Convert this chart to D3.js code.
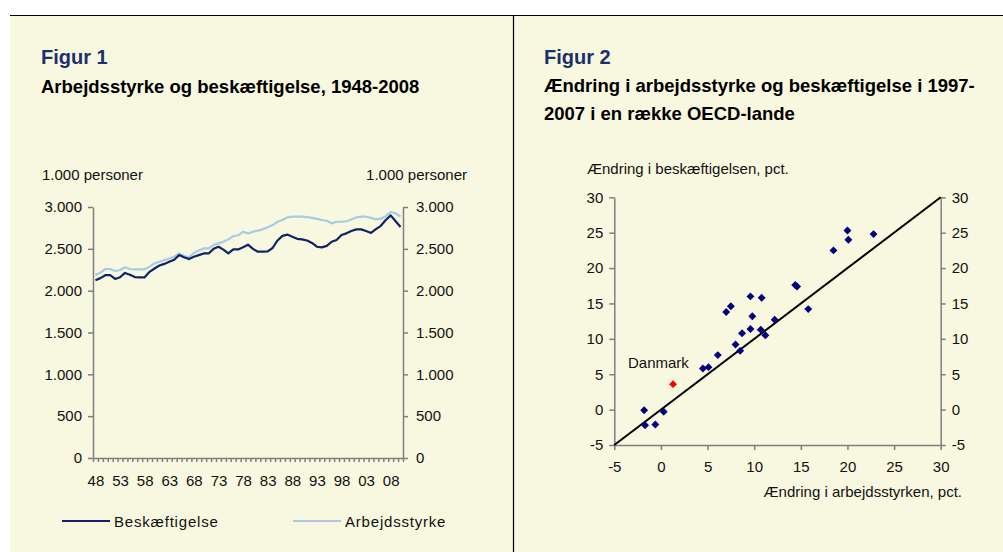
<!DOCTYPE html>
<html>
<head>
<meta charset="utf-8">
<script src="https://cdn.jsdelivr.net/npm/d3@7"></script>
<style>
  body { margin: 0; background: #fff; }
  svg text { font-family: "Liberation Sans", Arial, sans-serif; }
</style>
</head>
<body>
<svg id="chart" width="1003" height="552"></svg>
<script>
// Figur 1: 1.000 personer, 1948-2010
const years = d3.range(1948, 2011);
const beskaeftigelse = [
  2125, 2150, 2185, 2187, 2140, 2160, 2212, 2190, 2162, 2160,
  2160, 2225, 2265, 2300, 2320, 2345, 2370, 2425, 2400, 2378,
  2405, 2425, 2445, 2445, 2500, 2525, 2490, 2445, 2493, 2493,
  2520, 2550, 2500, 2466, 2466, 2470, 2510, 2600, 2655, 2670,
  2645, 2620, 2613, 2600, 2570, 2525, 2517, 2535, 2585, 2605,
  2665, 2685, 2713, 2733, 2733, 2713, 2690, 2735, 2775, 2845,
  2900, 2830, 2760
];
const arbejdsstyrke = [
  2187, 2215, 2259, 2259, 2235, 2247, 2279, 2259, 2255, 2255,
  2255, 2287, 2326, 2345, 2365, 2385, 2406, 2446, 2415, 2400,
  2450, 2480, 2505, 2505, 2545, 2565, 2585, 2613, 2650, 2662,
  2705, 2685, 2705, 2717, 2733, 2757, 2784, 2824, 2844, 2876,
  2884, 2884, 2884, 2880, 2870, 2858, 2845, 2836, 2804, 2824,
  2824, 2830, 2850, 2875, 2884, 2884, 2870, 2852, 2860, 2890,
  2940, 2925, 2885
];
const fig1YTicks = [0, 500, 1000, 1500, 2000, 2500, 3000];
const fig1XLabelYears = [1948, 1953, 1958, 1963, 1968, 1973, 1978, 1983, 1988, 1993, 1998, 2003, 2008];

// Figur 2: ændring 1997-2007, pct.
const arbejdsstyrkeAendring = [
  20.0, 20.1, 22.8, 18.5, 14.4, 14.6, 15.8, 9.6, 10.8, 7.0,
  7.5, 9.8, 12.2, 8.7, 9.6, 10.7, 11.2, 8.0, 8.5, 6.1,
  4.5, 5.1, -1.8, -1.7, -0.6, 0.3
];
const beskaeftigelseAendring = [
  25.3, 24.0, 24.8, 22.5, 17.6, 17.4, 14.2, 16.0, 15.8, 13.8,
  14.6, 13.2, 12.7, 10.8, 11.4, 11.3, 10.5, 9.2, 8.3, 7.7,
  5.8, 6.0, -0.1, -2.2, -2.1, -0.3
];
const danmark = { x: 1.3, y: 3.6 };
const fig2Ticks = [-5, 0, 5, 10, 15, 20, 25, 30];

const cream = "#f8f8e0";
const axisGrey = "#7f7f7f";
const navy = "#1b2f6b";
const darkLine = "#0e2465";
const lightLine = "#a7cbe2";
const fontSize = 15;

const da = d3.formatLocale({ decimal: ",", thousands: ".", grouping: [3], currency: ["", " kr"], minus: "-" });
const fmt = da.format(",");

const svg = d3.select("#chart");

// baggrund og ramme
svg.append("rect").attr("x", 10).attr("y", 15).attr("width", 993).attr("height", 537).attr("fill", cream);
svg.append("line").attr("x1", 10).attr("x2", 1003).attr("y1", 15.5).attr("y2", 15.5).attr("stroke", "#000").attr("stroke-width", 1.2);
svg.append("line").attr("x1", 513.5).attr("x2", 513.5).attr("y1", 15).attr("y2", 552).attr("stroke", "#000").attr("stroke-width", 1.2);

function styleAxis(g) {
  g.selectAll("path, line").attr("stroke", axisGrey).attr("stroke-width", 1.5);
  g.selectAll("text").attr("font-size", fontSize).attr("fill", "#111")
    .attr("font-family", "'Liberation Sans', Arial, sans-serif");
}

// ---------- Figur 1 ----------
svg.append("text").attr("x", 41).attr("y", 64).attr("font-size", 20).attr("font-weight", "bold")
  .attr("fill", navy).text("Figur 1");
svg.append("text").attr("x", 41).attr("y", 93).attr("font-size", 18.5).attr("font-weight", "bold")
  .attr("fill", "#000").text("Arbejdsstyrke og beskæftigelse, 1948-2008");

const x1 = d3.scaleLinear().domain([1947.5, 2010.5]).range([93, 403]);
const y1 = d3.scaleLinear().domain([0, 3000]).range([458, 207]);

svg.append("text").attr("x", 42).attr("y", 180).attr("font-size", fontSize).attr("fill", "#111").text("1.000 personer");
svg.append("text").attr("x", 467).attr("y", 180).attr("font-size", fontSize).attr("fill", "#111")
  .attr("text-anchor", "end").text("1.000 personer");

svg.append("g").attr("transform", "translate(93,0)")
  .call(d3.axisLeft(y1).tickValues(fig1YTicks).tickFormat(fmt).tickSize(5).tickPadding(6).tickSizeOuter(0))
  .call(styleAxis);
svg.append("g").attr("transform", "translate(403,0)")
  .call(d3.axisRight(y1).tickValues(fig1YTicks).tickFormat(fmt).tickSize(5).tickPadding(8).tickSizeOuter(0))
  .call(styleAxis);
svg.append("g").attr("transform", "translate(0,458)")
  .call(d3.axisBottom(x1).tickValues(d3.range(1947.5, 2011, 1)).tickFormat("").tickSize(4).tickSizeOuter(0))
  .call(styleAxis);
svg.append("g").attr("transform", "translate(0,458)")
  .call(d3.axisBottom(x1).tickValues(fig1XLabelYears).tickFormat(d => String(d).slice(2)).tickSize(0).tickPadding(17))
  .call(styleAxis)
  .call(g => g.select(".domain").remove());

const line1 = d3.line().x((d, i) => x1(years[i])).y(d => y1(d));
svg.append("path").datum(arbejdsstyrke).attr("d", line1).attr("fill", "none")
  .attr("stroke", lightLine).attr("stroke-width", 2.2).attr("stroke-linejoin", "round");
svg.append("path").datum(beskaeftigelse).attr("d", line1).attr("fill", "none")
  .attr("stroke", darkLine).attr("stroke-width", 2.2).attr("stroke-linejoin", "round");

const legend = [
  { name: "Beskæftigelse", color: darkLine, x: 62 },
  { name: "Arbejdsstyrke", color: lightLine, x: 293 }
];
legend.forEach(l => {
  svg.append("line").attr("x1", l.x).attr("x2", l.x + 48).attr("y1", 521).attr("y2", 521)
    .attr("stroke", l.color).attr("stroke-width", 2.2);
  svg.append("text").attr("x", l.x + 52).attr("y", 526.5).attr("font-size", fontSize)
    .attr("letter-spacing", 0.8).attr("fill", "#111").text(l.name);
});

// ---------- Figur 2 ----------
svg.append("text").attr("x", 544).attr("y", 64).attr("font-size", 20).attr("font-weight", "bold")
  .attr("fill", navy).text("Figur 2");
svg.append("text").attr("x", 544).attr("y", 92).attr("font-size", 18.5).attr("font-weight", "bold")
  .attr("fill", "#000").text("Ændring i arbejdsstyrke og beskæftigelse i 1997-");
svg.append("text").attr("x", 544).attr("y", 120).attr("font-size", 18.5).attr("font-weight", "bold")
  .attr("fill", "#000").text("2007 i en række OECD-lande");

const x2 = d3.scaleLinear().domain([-5, 30]).range([614.3, 940.7]);
const y2 = d3.scaleLinear().domain([-5, 30]).range([445, 197.3]);
const fmt2 = da.format("d");

svg.append("text").attr("x", 587).attr("y", 174).attr("font-size", fontSize).attr("fill", "#111")
  .text("Ændring i beskæftigelsen, pct.");
svg.append("text").attr("x", 962).attr("y", 497).attr("font-size", fontSize).attr("fill", "#111")
  .attr("text-anchor", "end").text("Ændring i arbejdsstyrken, pct.");

svg.append("g").attr("transform", "translate(614.3,0)")
  .call(d3.axisLeft(y2).tickValues(fig2Ticks).tickFormat(fmt2).tickSize(5).tickPadding(6).tickSizeOuter(0))
  .call(styleAxis);
svg.append("g").attr("transform", "translate(940.7,0)")
  .call(d3.axisRight(y2).tickValues(fig2Ticks).tickFormat(fmt2).tickSize(5).tickPadding(6).tickSizeOuter(0))
  .call(styleAxis);
svg.append("g").attr("transform", "translate(0,445)")
  .call(d3.axisBottom(x2).tickValues(fig2Ticks).tickFormat(fmt2).tickSize(5).tickPadding(11).tickSizeOuter(0))
  .call(styleAxis);

// 45-graders linje
svg.append("line").attr("x1", x2(-5)).attr("y1", y2(-5)).attr("x2", x2(30)).attr("y2", y2(30))
  .attr("stroke", "#000").attr("stroke-width", 2);

const diamond = d3.symbol().type(d3.symbolDiamond2).size(40);
svg.append("g").selectAll("path").data(arbejdsstyrkeAendring).join("path")
  .attr("transform", (d, i) => `translate(${x2(d)},${y2(beskaeftigelseAendring[i])})`)
  .attr("d", diamond).attr("fill", "#000080");
svg.append("path").attr("transform", `translate(${x2(danmark.x)},${y2(danmark.y)})`)
  .attr("d", diamond).attr("fill", "#ff0000");
svg.append("text").attr("x", 628).attr("y", 368).attr("font-size", fontSize).attr("fill", "#111").text("Danmark");
</script>
</body>
</html>
